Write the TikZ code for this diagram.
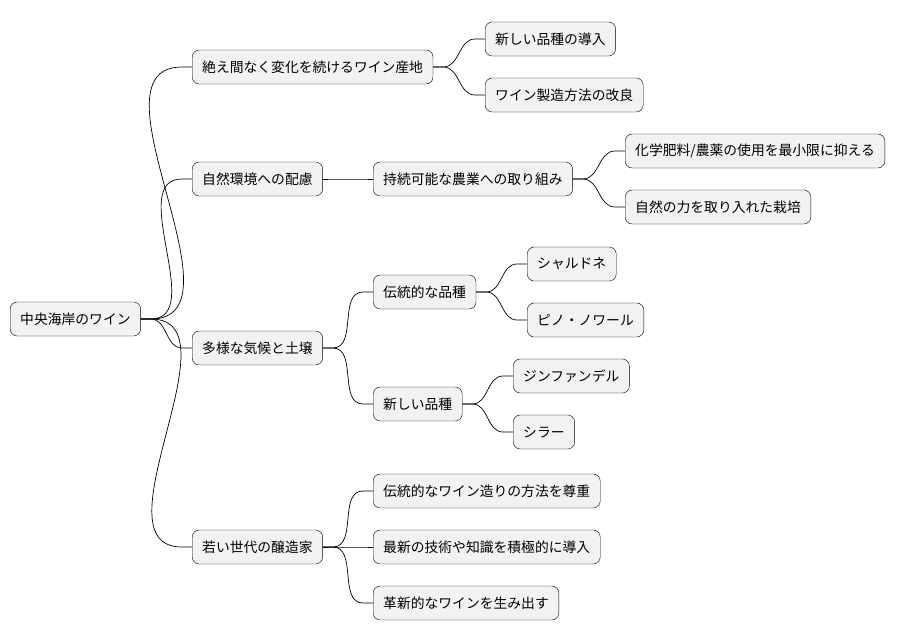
\documentclass[tikz,border=0pt]{standalone}
\usepackage{fontspec}
\newfontfamily\cjk{Noto Sans CJK JP}
\tikzset{
  idea/.style={draw=black, fill=black!5, rounded corners=7pt, minimum height=34pt,
    inner xsep=10pt, anchor=west, font=\cjk\fontsize{13.8pt}{16pt}\selectfont},
  branch/.style={draw=black, line width=0.7pt}
}
\begin{document}
\begin{tikzpicture}[x=1pt,y=-1pt]
  \useasboundingbox (0,0) rectangle (899,640);
  \node[idea] (root) at (10,319) {中央海岸のワイン};

  \node[idea] (change) at (192,67) {絶え間なく変化を続けるワイン産地};
  \node[idea] (env) at (192,179) {自然環境への配慮};
  \node[idea] (climate) at (192,348) {多様な気候と土壌};
  \node[idea] (young) at (192,547) {若い世代の醸造家};

  \node[idea] (newvar) at (485,39) {新しい品種の導入};
  \node[idea] (method) at (485,95) {ワイン製造方法の改良};

  \node[idea] (sustain) at (373,179) {持続可能な農業への取り組み};
  \node[idea] (chem) at (625,151) {化学肥料/農薬の使用を最小限に抑える};
  \node[idea] (nature) at (625,207) {自然の力を取り入れた栽培};

  \node[idea] (trad) at (373,292) {伝統的な品種};
  \node[idea] (chard) at (527,264) {シャルドネ};
  \node[idea] (pinot) at (527,320) {ピノ・ノワール};
  \node[idea] (newkind) at (373,404) {新しい品種};
  \node[idea] (zin) at (513,376) {ジンファンデル};
  \node[idea] (syrah) at (513,432) {シラー};

  \node[idea] (respect) at (373,491) {伝統的なワイン造りの方法を尊重};
  \node[idea] (tech) at (373,547) {最新の技術や知識を積極的に導入};
  \node[idea] (innov) at (373,603) {革新的なワインを生み出す};

  \foreach \a/\b in {root/change, root/env, root/climate, root/young,
      change/newvar, change/method, env/sustain, sustain/chem, sustain/nature,
      climate/trad, climate/newkind, trad/chard, trad/pinot, newkind/zin, newkind/syrah,
      young/respect, young/tech, young/innov}
    \draw[branch] (\a.east) -- ++(10,0) to[out=0,in=180] ([xshift=-10pt]\b.west) -- (\b.west);
\end{tikzpicture}
\end{document}
